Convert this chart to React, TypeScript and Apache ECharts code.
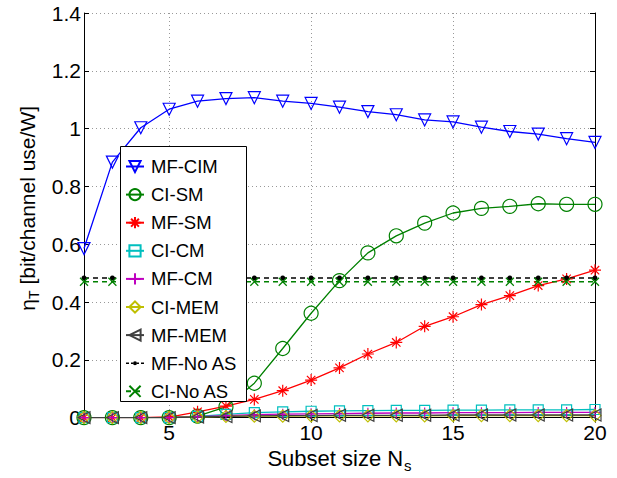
import React, { useEffect, useRef } from 'react';
import * as echarts from 'echarts';

const xValues = [2, 3, 4, 5, 6, 7, 8, 9, 10, 11, 12, 13, 14, 15, 16, 17, 18, 19, 20];
const xTickValues = [5, 10, 15, 20];

const mfCim = [0.585, 0.884, 1.003, 1.067, 1.095, 1.104, 1.107, 1.095, 1.087, 1.074, 1.059, 1.048, 1.03, 1.023, 1.005, 0.99, 0.981, 0.965, 0.952];
const ciSm = [0, 0, 0, 0, 0.005, 0.037, 0.119, 0.239, 0.361, 0.474, 0.57, 0.629, 0.673, 0.708, 0.724, 0.731, 0.74, 0.738, 0.738];
const mfSm = [0, 0, 0, 0.002, 0.02, 0.04, 0.063, 0.093, 0.13, 0.172, 0.22, 0.26, 0.316, 0.349, 0.391, 0.422, 0.457, 0.48, 0.51];
const ciCm = [0, 0, 0, 0, 0.004, 0.011, 0.017, 0.02, 0.022, 0.023, 0.024, 0.025, 0.025, 0.026, 0.026, 0.027, 0.027, 0.027, 0.028];
const mfCm = [0, 0, 0, 0, 0.003, 0.007, 0.01, 0.012, 0.013, 0.014, 0.015, 0.016, 0.016, 0.017, 0.017, 0.017, 0.018, 0.018, 0.018];
const ciMem = [0, 0, 0, 0, 0.002, 0.004, 0.005, 0.005, 0.006, 0.006, 0.006, 0.006, 0.006, 0.007, 0.007, 0.007, 0.007, 0.007, 0.007];
const mfMem = [0, 0, 0, 0, 0.002, 0.004, 0.006, 0.007, 0.007, 0.008, 0.008, 0.008, 0.008, 0.009, 0.009, 0.009, 0.009, 0.009, 0.009];
const mfNoAs = [0.483, 0.483, 0.483, 0.483, 0.483, 0.483, 0.483, 0.483, 0.483, 0.483, 0.483, 0.483, 0.483, 0.483, 0.483, 0.483, 0.483, 0.483, 0.483];
const ciNoAs = [0.47, 0.47, 0.47, 0.47, 0.47, 0.47, 0.47, 0.47, 0.47, 0.47, 0.47, 0.47, 0.47, 0.47, 0.47, 0.47, 0.47, 0.47, 0.47];

const seriesNames = ['MF-CIM', 'CI-SM', 'MF-SM', 'CI-CM', 'MF-CM', 'CI-MEM', 'MF-MEM', 'MF-No AS', 'CI-No AS'];

const FONT = '"Liberation Sans", Arial, Helvetica, sans-serif';

const ASTERISK = 'path://M0,-10L0,10M-10,0L10,0M-7,-7L7,7M-7,7L7,-7';
const PLUS = 'path://M0,-10L0,10M-10,0L10,0';
const XMARK = 'path://M-10,-10L10,10M-10,10L10,-10';
const DOT_LEGEND_ICON =
  'path://M0,5.3h3v1.4h-3z M5,5.3h2v1.4h-2z M11,5.3h2v1.4h-2z M15,5.3h3v1.4h-3z M7,6a2,2 0 1,0 4,0a2,2 0 1,0 -4,0z M0,0h0.01v0.01h-0.01z M0,12h0.01v0.01h-0.01z';

function pairs(vals: number[]) {
  return xValues.map((x, i) => [x, vals[i]]);
}

function mk(name: string, vals: number[], color: string, symbol: string, size: number, opts: any = {}) {
  return {
    name,
    type: 'line',
    data: pairs(vals),
    color,
    symbol,
    symbolSize: size,
    symbolRotate: opts.rotate || 0,
    showAllSymbol: true,
    lineStyle: { color, width: opts.width || 1.3, type: opts.dash || 'solid' },
    itemStyle: opts.filled
      ? { color, borderColor: color, borderWidth: 0 }
      : { color: 'none', borderColor: color, borderWidth: opts.bw || 1.2 },
    emphasis: { disabled: true },
    z: 2,
  };
}

export default function App() {
  const ref = useRef<HTMLDivElement>(null);
  useEffect(() => {
    document.body.style.margin = '0';
    const chart = echarts.init(ref.current!, null, { renderer: 'svg' });
    const axisCommon = {
      type: 'value',
      axisLine: { show: true, lineStyle: { color: '#000', width: 1 } },
      axisTick: { show: true, inside: true, length: 5, lineStyle: { color: '#000' } },
    };
    chart.setOption({
      animation: false,
      backgroundColor: '#fff',
      textStyle: { fontFamily: FONT },
      grid: { left: 84, right: 22, top: 13, bottom: 51, containLabel: false },
      xAxis: [
        {
          ...axisCommon,
          min: 2,
          max: 20,
          position: 'bottom',
          axisTick: { ...axisCommon.axisTick, customValues: xTickValues },
          axisLabel: { customValues: xTickValues, color: '#000', fontSize: 21, margin: 4, fontFamily: FONT },
          splitLine: { show: true, lineStyle: { color: '#999', type: [1, 3], width: 1 } },
          name: 'Subset size N{sub|s}',
          nameLocation: 'middle',
          nameGap: 20,
          nameTextStyle: {
            color: '#000',
            fontSize: 22,
            fontFamily: FONT,
            rich: {
              sub: { fontSize: 15, fontFamily: FONT, color: '#000', padding: [14, 0, 0, 1] },
            },
          },
        },
        {
          ...axisCommon,
          min: 2,
          max: 20,
          position: 'top',
          axisTick: { ...axisCommon.axisTick, customValues: xTickValues },
          axisLabel: { show: false },
          splitLine: { show: false },
        },
      ],
      yAxis: [
        {
          ...axisCommon,
          min: 0,
          max: 1.4,
          interval: 0.2,
          position: 'left',
          axisLabel: { color: '#000', fontSize: 21, margin: 3, fontFamily: FONT },
          splitLine: { show: true, lineStyle: { color: '#999', type: [1, 3], width: 1 } },
          name: '{a|η}{sub|T}{a| [bit/channel use/W]}',
          nameLocation: 'middle',
          nameGap: 36,
          nameTextStyle: {
            color: '#000',
            padding: [0, 0, 0, 14],
            rich: {
              a: { fontSize: 21, fontFamily: FONT, color: '#000' },
              sub: { fontSize: 14, fontFamily: FONT, color: '#000', padding: [12, 0, 0, 0] },
            },
          },
        },
        {
          ...axisCommon,
          min: 0,
          max: 1.4,
          interval: 0.2,
          position: 'right',
          axisLabel: { show: false },
          splitLine: { show: false },
        },
      ],
      legend: {
        orient: 'vertical',
        left: 120,
        top: 146,
        padding: [11, 5, 5, 5],
        itemWidth: 18,
        itemHeight: 14,
        itemGap: 9.1,
        data: seriesNames.map((n) => (n === 'MF-No AS' ? { name: n, icon: DOT_LEGEND_ICON } : { name: n })),
        textStyle: { color: '#000', fontSize: 18.5, lineHeight: 18, fontFamily: FONT, padding: [0, 0, 0, 2] },
        z: 6,
      },
      graphic: [
        {
          type: 'rect',
          z: 5,
          shape: { x: 120.5, y: 146.5, width: 126, height: 255 },
          style: { fill: '#fff', stroke: '#000', lineWidth: 1 },
        },
      ],
      series: [
        mk('MF-CIM', mfCim, '#0000FF', 'triangle', 12, { rotate: 180 }),
        mk('CI-SM', ciSm, '#008000', 'circle', 14),
        mk('MF-SM', mfSm, '#FF0000', ASTERISK, 12),
        mk('CI-CM', ciCm, '#00BFBF', 'rect', 10),
        mk('MF-CM', mfCm, '#BF00BF', PLUS, 11),
        mk('CI-MEM', ciMem, '#BFBF00', 'diamond', 12),
        mk('MF-MEM', mfMem, '#404040', 'triangle', 12, { rotate: 90 }),
        mk('MF-No AS', mfNoAs, '#000000', 'circle', 5, { filled: true, dash: [5, 4], width: 1.5 }),
        mk('CI-No AS', ciNoAs, '#008000', XMARK, 8, { dash: [5, 4], width: 1.5 }),
      ],
    });
    return () => chart.dispose();
  }, []);
  return <div ref={ref} style={{ position: 'fixed', left: 0, top: 0, width: 617, height: 478 }} />;
}
